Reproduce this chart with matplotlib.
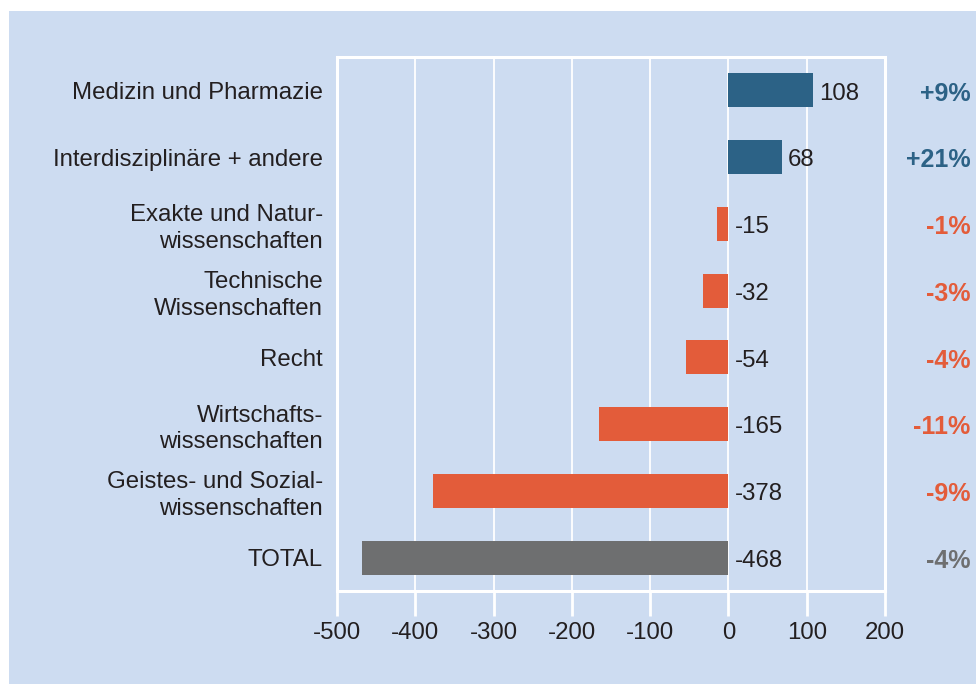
import matplotlib
matplotlib.use('Agg')
import matplotlib.pyplot as plt
from matplotlib.patches import Rectangle

# Daten
categories = ["Medizin und Pharmazie", "Interdisziplinäre + andere",
              "Exakte und Natur-\nwissenschaften", "Technische\nWissenschaften",
              "Recht", "Wirtschafts-\nwissenschaften",
              "Geistes- und Sozial-\nwissenschaften", "TOTAL"]
values = [108, 68, -15, -32, -54, -165, -378, -468]
percents = ["+9%", "+21%", "-1%", "-3%", "-4%", "-11%", "-9%", "-4%"]

BLUE = "#2c6286"
ORANGE = "#e35c3a"
GREY = "#6e6f70"
BG = "#cddcf1"
TXT = "#231f20"

plt.rcParams['font.family'] = ['Liberation Sans', 'DejaVu Sans']
plt.rcParams['axes.unicode_minus'] = False
FS = 17.3

fig = plt.figure(figsize=(9.76, 6.84), dpi=100)
fig.patch.set_facecolor("white")
fig.patches.append(Rectangle((9 / 976, 0), 1, 673 / 684, transform=fig.transFigure,
                             facecolor=BG, edgecolor="none", zorder=-5))

ax = fig.add_axes([337 / 976, 1 - 591 / 684, (885 - 337) / 976, (591 - 57) / 684])
ax.set_zorder(2)
ax.set_facecolor("none")

colors = []
for i, v in enumerate(values):
    if categories[i] == "TOTAL":
        colors.append(GREY)
    elif v > 0:
        colors.append(BLUE)
    else:
        colors.append(ORANGE)

ypos = list(range(len(values)))
ax.barh(ypos, values, height=0.51, color=colors, zorder=3)
ax.set_ylim(len(values) - 0.5, -0.5)
ax.set_xlim(-500, 200)
ax.set_xticks(range(-500, 201, 100))
ax.set_yticks(ypos)
ax.set_yticklabels(categories, fontsize=FS, color=TXT, linespacing=1.27)
ax.tick_params(axis='y', length=0, pad=10)
ax.tick_params(axis='x', length=18, width=2, color="white", labelsize=FS,
               labelcolor=TXT, pad=4)
ax.grid(axis='x', color="white", linewidth=1.3, zorder=1)
for s in ax.spines.values():
    s.set_color("white")
    s.set_linewidth(2.2)

for i, v in enumerate(values):
    x = v if v > 0 else 0
    ax.text(x + 8, i + 0.05, str(v), va='center', ha='left', fontsize=FS,
            color=TXT, zorder=4)
    ax.annotate(percents[i], xy=(1, i + 0.05), xycoords=('figure fraction', 'data'),
                xytext=(-4, 0), textcoords='offset points', ha='right', va='center',
                fontsize=18, fontweight='bold', color=colors[i])

fig.savefig("out.png", dpi=100)
